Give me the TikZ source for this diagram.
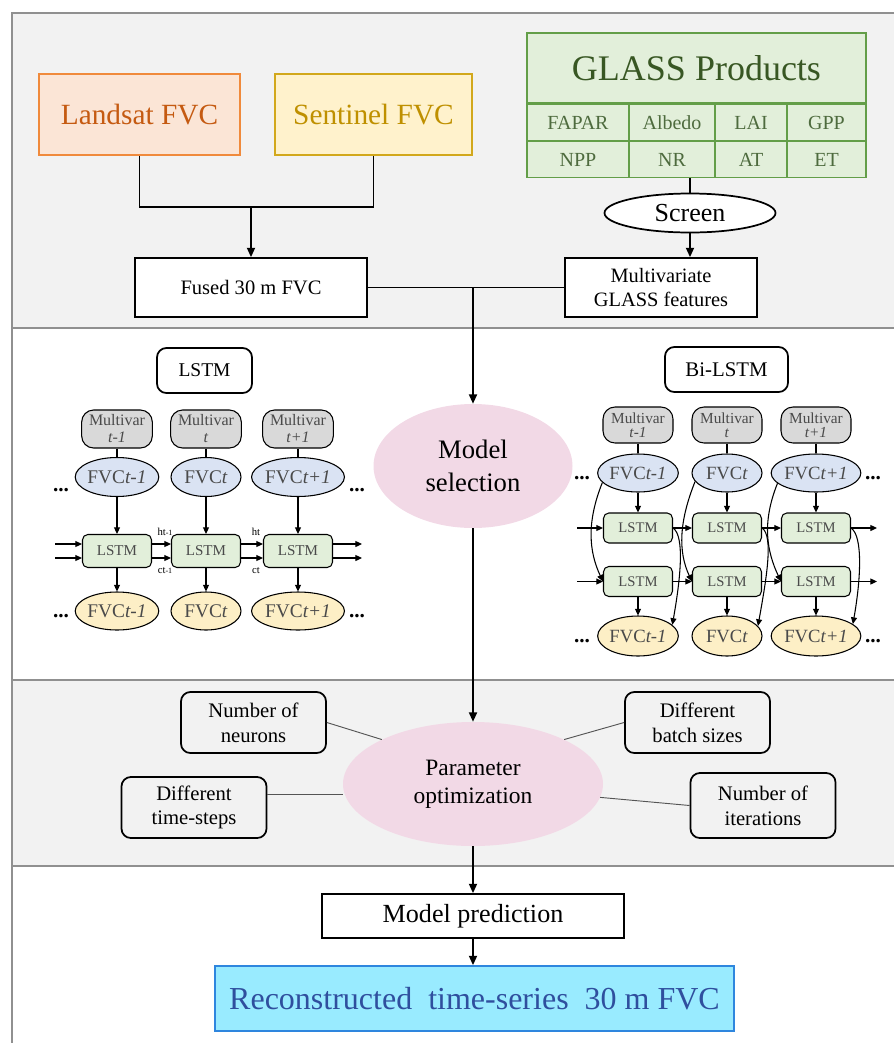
\documentclass[tikz,border=0pt]{standalone}
\usepackage{fontspec}
\setmainfont{Liberation Serif}
\usetikzlibrary{shapes.geometric,arrows.meta,calc}
\definecolor{bandgray}{HTML}{F2F2F2}
\definecolor{frameg}{HTML}{909090}
\definecolor{landF}{HTML}{FBE5D6}
\definecolor{landD}{HTML}{F08A3C}
\definecolor{landT}{HTML}{C55A11}
\definecolor{sentF}{HTML}{FFF2CC}
\definecolor{sentD}{HTML}{D2A81C}
\definecolor{sentT}{HTML}{BF9000}
\definecolor{glassF}{HTML}{E2EFDA}
\definecolor{glassD}{HTML}{639E48}
\definecolor{glassT}{HTML}{385723}
\definecolor{cellT}{HTML}{4E6B3E}
\definecolor{pinkF}{HTML}{F2D9E6}
\definecolor{blueF}{HTML}{DAE3F3}
\definecolor{yelF}{HTML}{FDEFC6}
\definecolor{greenF}{HTML}{E2EFDA}
\definecolor{mvgray}{HTML}{D9D9D9}
\definecolor{smallT}{HTML}{4A4A4A}
\definecolor{cyanF}{HTML}{99EBFF}
\definecolor{cyanD}{HTML}{2E86DE}
\definecolor{cyanT}{HTML}{2F4F9E}
\definecolor{thinline}{HTML}{555555}
\newcommand{\fsz}[2]{\fontsize{#1}{#2}\selectfont}
\begin{document}
\begin{tikzpicture}[x=0.75pt,y=-0.75pt,
  frame/.style={draw=frameg,line width=1.5pt},
  box/.style={draw,line width=1.3pt,inner sep=0pt,align=center},
  rbox/.style={box,rounded corners=7pt},
  arr/.style={-{Triangle[length=7pt,width=6pt]},line width=1.3pt},
  sarr/.style={-{Triangle[length=5pt,width=4.5pt]},line width=0.9pt},
  conn/.style={line width=1.3pt},
  cell/.style={draw=glassD,line width=1.1pt,fill=glassF,inner sep=0pt,text=cellT,font=\fsz{15}{15}},
  mv/.style={draw,line width=0.8pt,fill=mvgray,rounded corners=9pt,inner sep=0pt,align=center,text=smallT,minimum width=53pt},
  blu/.style={ellipse,draw,line width=0.8pt,fill=blueF,inner sep=0pt,text=smallT,minimum width=52.5pt},
  yel/.style={ellipse,draw,line width=0.8pt,fill=yelF,inner sep=0pt,text=smallT,minimum width=52.5pt},
  lstm/.style={draw,line width=0.8pt,fill=greenF,rounded corners=4pt,inner sep=0pt,text=smallT,minimum width=51.75pt},
  dots/.style={inner sep=0pt,font=\fsz{16}{16}\bfseries},
  lab/.style={inner sep=0pt,font=\fsz{8}{8}},
  pbox/.style={rbox,minimum width=108.75pt,minimum height=45.75pt,font=\fsz{15.5}{18.5},align=center},
  curv/.style={-{Triangle[length=5pt,width=4.5pt]},line width=0.8pt}
]
\useasboundingbox (0,0) rectangle (894,1043);
% bands and frame
\fill[bandgray] (12,13) rectangle (894,328);
\fill[bandgray] (12,680) rectangle (894,866);
\draw[frame] (894,13) -- (12,13) -- (12,1043);
\draw[frame] (12,328) -- (894,328);
\draw[frame] (12,680) -- (894,680);
\draw[frame] (12,866) -- (894,866);

% ---------- top band ----------
\node[box,draw=landD,fill=landF,text=landT,minimum width=150.75pt,minimum height=60.75pt,font=\fsz{22}{22}] (land) at (139.5,114.5) {Landsat FVC};
\node[box,draw=sentD,fill=sentF,text=sentT,minimum width=147.75pt,minimum height=60.75pt,font=\fsz{22}{22}] (sent) at (373.5,114.5) {Sentinel FVC};

\node[box,draw=glassD,line width=1.1pt,fill=glassF,text=glassT,minimum width=254.25pt,minimum height=52.5pt,font=\fsz{27}{27}] (glass) at (696.5,68) {GLASS Products};
\node[cell,minimum width=76.5pt,minimum height=27.75pt] (g11) at (578,122.5) {FAPAR};
\node[cell,minimum width=64.5pt,minimum height=27.75pt] (g12) at (672,122.5) {Albedo};
\node[cell,minimum width=54pt,minimum height=27.75pt] (g13) at (751,122.5) {LAI};
\node[cell,minimum width=59.25pt,minimum height=27.75pt] (g14) at (826.5,122.5) {GPP};
\node[cell,minimum width=76.5pt,minimum height=27pt] (g21) at (578,159.5) {NPP};
\node[cell,minimum width=64.5pt,minimum height=27pt] (g22) at (672,159.5) {NR};
\node[cell,minimum width=54pt,minimum height=27pt] (g23) at (751,159.5) {AT};
\node[cell,minimum width=59.25pt,minimum height=27pt] (g24) at (826.5,159.5) {ET};

\node[ellipse,draw,line width=1.3pt,fill=white,inner sep=0pt,minimum width=128.25pt,minimum height=29.25pt,font=\fsz{19.5}{19.5}] (screen) at (690,213) {Screen};
\node[box,fill=white,minimum width=144pt,minimum height=44.25pt,font=\fsz{15.3}{18}] (multi) at (661,287.5) {Multivariate\\GLASS features};
\node[box,fill=white,minimum width=174pt,minimum height=44.25pt,font=\fsz{15.4}{15.4}] (fused) at (251,287.5) {Fused 30 m FVC};

\coordinate (jn) at (251,207);
\draw[conn] (land.south) |- (jn) -| (sent.south);
\draw[arr] (jn) -- (fused.north);
\draw[conn] (screen.north |- g22.south) -- (screen.north);
\draw[arr] (screen.south) -- (screen.south |- multi.north);
\draw[conn] (fused.east) -- (multi.west);
\coordinate (jm) at (473,287.5);

% ---------- model selection band ----------
\node[ellipse,fill=pinkF,inner sep=0pt,minimum width=149.25pt,minimum height=93pt,align=center,font=\fsz{20}{25}] (msel) at (473,466) {Model\\selection};
\draw[arr] (jm) -- (msel.north);

\node[rbox,minimum width=71.25pt,minimum height=33.75pt,font=\fsz{14.6}{14.6}] (lstmlab) at (204.5,370.5) {LSTM};
\node[rbox,minimum width=92.25pt,minimum height=33.75pt,font=\fsz{15.6}{15.6}] (bilab) at (726.5,369.5) {Bi-LSTM};

% LSTM (left)
\foreach \i/\x/\t in {1/117/t-1,2/206/t,3/298/t+1}{
  \node[mv,minimum height=28.5pt,font=\fsz{12}{12.75}] (lm\i) at (\x,429) {Multivar\\\textit{\t}};
  \node[blu,minimum height=29.25pt,font=\fsz{14.5}{14.5}] (lb\i) at (\x,477) {FVC\textit{\t}};
  \node[lstm,minimum height=24.75pt,font=\fsz{11.3}{11.3}] (ll\i) at (\x,551) {LSTM};
  \node[yel,minimum height=28.5pt,font=\fsz{14.5}{14.5}] (ly\i) at (\x,611) {FVC\textit{\t}};
  \draw[line width=0.8pt] (lm\i.south) -- (lb\i.north);
  \draw[sarr] (lb\i.south) -- (ll\i.north);
  \draw[sarr] (ll\i.south) -- (ly\i.north);
}
\node[dots] (ld1) at (61,490) {...};
\node[dots] (ld2) at (357,490) {...};
\node[dots] (ld3) at (61,616) {...};
\node[dots] (ld4) at (357,616) {...};
\coordinate (lin) at (55,551);
\coordinate (lout) at (362,551);
\foreach \s in {5.25pt,-5.25pt}{
  \draw[sarr] ([yshift=\s]lin) -- ([yshift=\s]ll1.west);
  \draw[sarr] ([yshift=\s]ll1.east) -- ([yshift=\s]ll2.west);
  \draw[sarr] ([yshift=\s]ll2.east) -- ([yshift=\s]ll3.west);
  \draw[sarr] ([yshift=\s]ll3.east) -- ([yshift=\s]lout);
}
\node[lab] (h1) at (165,532) {ht{\fsz{6}{6}-1}};
\node[lab] (c1) at (165,571) {ct{\fsz{6}{6}-1}};
\node[lab] (h2) at (256,532) {ht};
\node[lab] (c2) at (256,571) {ct};

% Bi-LSTM (right)
\foreach \i/\x/\t in {1/638/t-1,2/727/t,3/816/t+1}{
  \node[mv,minimum height=27pt,font=\fsz{11.5}{10.5},minimum width=52.5pt] (rm\i) at (\x,425) {Multivar\\\textit{\t}};
  \node[blu,minimum height=28.5pt,font=\fsz{14}{14}] (rb\i) at (\x,473) {FVC\textit{\t}};
  \node[lstm,minimum height=22.5pt,font=\fsz{11}{11}] (ru\i) at (\x,528) {LSTM};
  \node[lstm,minimum height=22.5pt,font=\fsz{11}{11}] (rl\i) at (\x,581.5) {LSTM};
  \node[yel,minimum height=30pt,font=\fsz{14}{14}] (ry\i) at (\x,636) {FVC\textit{\t}};
  \draw[line width=0.8pt] (rm\i.south) -- (rb\i.north);
  \draw[sarr] (rb\i.south) -- (ru\i.north);
  \draw[sarr] (rl\i.south) -- (ry\i.north);
  \draw[curv] (rb\i.195) .. controls +(-16,40) and +(-14,-30) .. (rl\i.west);
  \draw[curv] (ru\i.east) .. controls +(12,8) and +(8,-45) .. (ry\i.18);
}
\node[dots] (rd1) at (582,478) {...};
\node[dots] (rd2) at (873,478) {...};
\node[dots] (rd3) at (582,641) {...};
\node[dots] (rd4) at (873,641) {...};
\coordinate (rinu) at (577,528);
\coordinate (routu) at (877,528);
\coordinate (rinl) at (577,581.5);
\coordinate (routl) at (877,581.5);
\draw[sarr] (rinu) -- (ru1.west);
\draw[sarr] (ru1.east) -- (ru2.west);
\draw[sarr] (ru2.east) -- (ru3.west);
\draw[sarr] (ru3.east) -- (routu);
\draw[sarr] (rinl) -- (rl1.west);
\draw[sarr] (rl1.east) -- (rl2.west);
\draw[sarr] (rl2.east) -- (rl3.west);
\draw[sarr] (rl3.east) -- (routl);

% ---------- parameter band ----------
\node[ellipse,fill=pinkF,inner sep=0pt,minimum width=195pt,minimum height=93pt,align=center,font=\fsz{17.6}{21}] (param) at (473,784) {Parameter\\optimization};
\draw[arr] (msel.south) -- (param.north);
\node[pbox] (neur) at (253.5,722.5) {Number of\\neurons};
\node[pbox] (batch) at (697.5,722.5) {Different\\batch sizes};
\node[pbox] (tstep) at (194,807.5) {Different\\time-steps};
\node[pbox,minimum height=48.75pt] (iter) at (763,805.5) {Number of\\iterations};
\draw[thinline,line width=0.7pt] (neur.east) -- (param.154);
\draw[thinline,line width=0.7pt] (batch.west) -- (param.26);
\draw[thinline,line width=0.7pt] (tstep.10) -- (tstep.10 -| param.west);
\draw[thinline,line width=0.7pt] (param.-6) -- (iter.west);

% ---------- bottom band ----------
\node[box,fill=white,minimum width=226.5pt,minimum height=33pt,font=\fsz{19.6}{19.6}] (pred) at (473,916) {Model prediction};
\draw[arr] (param.south) -- (pred.north);
\node[box,draw=cyanD,fill=cyanF,text=cyanT,minimum width=389.25pt,minimum height=48.75pt,font=\fsz{24}{24}] (recon) at (474.5,998.5) {Reconstructed\ \ time-series\ \ 30 m FVC};
\draw[arr] (pred.south) -- (pred.south |- recon.north);
\end{tikzpicture}
\end{document}
